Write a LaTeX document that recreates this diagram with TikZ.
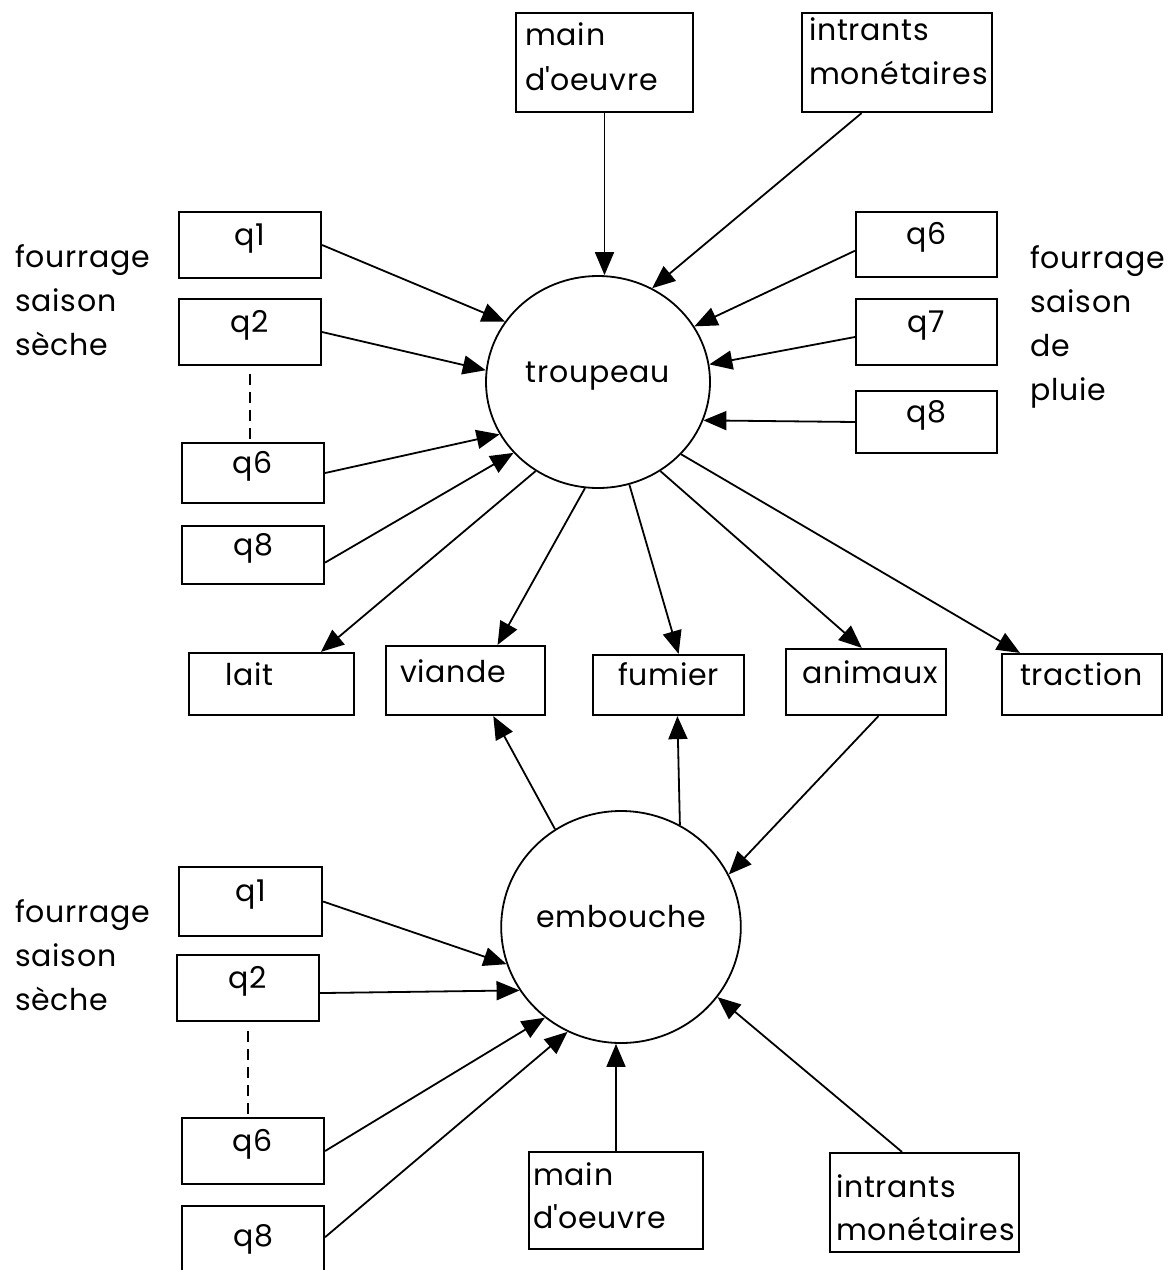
\documentclass[tikz,border=0pt]{standalone}
\usepackage{fontspec}
\setmainfont{Poppins}[LetterSpace=2.5]
\usetikzlibrary{arrows.meta,shapes.geometric}

\begin{document}
\begin{tikzpicture}[x=1pt,y=-1pt,
  every node/.style={font=\fontsize{30}{44}\selectfont},
  box/.style={draw, line width=2.2pt, rectangle, inner sep=0pt, text height=14pt, text depth=14pt},
  hub/.style={draw, line width=1.8pt, ellipse, inner sep=0pt, text height=15pt, text depth=15pt},
  lbl/.style={anchor=base west, inner sep=0pt},
  flow/.style={line width=1.8pt, -{Triangle[length=23pt,width=19pt]}},
  gap/.style={line width=1.8pt, dash pattern=on 11pt off 7pt}
]
\clip (0,0) rectangle (1169,1270);
\fill[white] (0,0) rectangle (1169,1270);

% ---------- herd ----------
\node[hub, minimum width=224pt, minimum height=212pt] (troupeau) at (598,382) {troupeau};

\node[box, minimum width=177pt, minimum height=99pt] (mo1) at (604.5,62.5) {};
\node[lbl] (mo1a) at (525,45) {main};
\node[lbl] (mo1b) at (525,90) {d\textquotesingle oeuvre};
\node[box, minimum width=190pt, minimum height=99pt] (im1) at (897,62.5) {};
\node[lbl] (im1a) at (809,40) {intrants};
\node[lbl] (im1b) at (809,84) {monétaires};

% dry-season fodder, herd
\node[box, minimum width=142pt, minimum height=66pt] (q1a) at (250,245) {q1};
\node[box, minimum width=142pt, minimum height=66pt] (q2a) at (250,332) {q2};
\node[box, minimum width=142pt, minimum height=60pt] (q6a) at (253,473) {q6};
\node[box, minimum width=142pt, minimum height=58pt] (q8a) at (253,555) {q8};
\node[lbl] (fsa1) at (15,267) {fourrage};
\node[lbl] (fsa2) at (15,311) {saison};
\node[lbl] (fsa3) at (15,355) {sèche};

% rainy-season fodder, herd
\node[box, minimum width=141pt, minimum height=65pt] (q6b) at (926.5,244.5) {q6};
\node[box, minimum width=141pt, minimum height=66pt] (q7b) at (926.5,332) {q7};
\node[box, minimum width=141pt, minimum height=62pt] (q8b) at (926.5,422) {q8};
\node[lbl] (fpb1) at (1030,268) {fourrage};
\node[lbl] (fpb2) at (1030,312) {saison};
\node[lbl] (fpb3) at (1030,356) {de};
\node[lbl] (fpb4) at (1030,400) {pluie};

% ---------- products ----------
\node[box, minimum width=165pt, minimum height=62pt] (lait) at (271.5,684) {};
\node[lbl] (laitt) at (225,685) {lait};
\node[box, minimum width=159pt, minimum height=69pt] (viande) at (465.5,680.5) {};
\node[lbl] (viandet) at (400,682) {viande};
\node[box, minimum width=151pt, minimum height=60pt] (fumier) at (668.5,685) {};
\node[lbl] (fumiert) at (618,685) {fumier};
\node[box, minimum width=160pt, minimum height=66pt] (animaux) at (866,682) {};
\node[lbl] (animauxt) at (802,683) {animaux};
\node[box, minimum width=160pt, minimum height=61pt] (traction) at (1082,684.5) {};
\node[lbl] (tractiont) at (1020,685) {traction};

% ---------- fattening ----------
\node[hub, minimum width=238pt, minimum height=232pt] (embouche) at (621,927) {embouche};

\node[box, minimum width=143pt, minimum height=69pt] (q1c) at (250.5,901.5) {q1};
\node[box, minimum width=142pt, minimum height=66pt] (q2c) at (248,988) {q2};
\node[box, minimum width=142pt, minimum height=66pt] (q6c) at (253,1151) {q6};
\node[box, minimum width=142pt, minimum height=80pt] (q8c) at (253,1246) {q8};
\node[lbl] (fsc1) at (15,922) {fourrage};
\node[lbl] (fsc2) at (15,966) {saison};
\node[lbl] (fsc3) at (15,1010) {sèche};

\node[box, minimum width=174pt, minimum height=97pt] (mo2) at (616,1200.5) {};
\node[lbl] (mo2a) at (533,1185) {main};
\node[lbl] (mo2b) at (533,1228) {d\textquotesingle oeuvre};
\node[box, minimum width=189pt, minimum height=99pt] (im2) at (924.5,1202.5) {};
\node[lbl] (im2a) at (836,1197) {intrants};
\node[lbl] (im2b) at (836,1240) {monétaires};

% ---------- connectors ----------
\draw[gap] ([yshift=-8pt]q2a.south) -- (q2a.south |- q6a.north);
\draw[gap] ([yshift=-9pt]q2c.south) -- (q2c.south |- q6c.north);

\draw[flow] (mo1.south) -- (mo1.south |- troupeau.north);
\draw[flow] (im1.-125) -- (troupeau.60);
\draw[flow] (q6b.185) -- (troupeau.30);
\draw[flow] (q7b.184) -- (troupeau.9);
\draw[flow] (q8b.west) -- (troupeau.-20);
\draw[flow] (q1a.east) -- (troupeau.147);
\draw[flow] (q2a.east) -- (troupeau.174);
\draw[flow] (q6a.east) -- (troupeau.208);
\draw[flow] (q8a.-6) -- (troupeau.220);

\draw[flow] (troupeau.235) -- (lait.33);
\draw[flow] (troupeau.263) -- (viande.48);
\draw[flow] (troupeau.-73) -- (fumier.72);
\draw[flow] (troupeau.-55) -- (animaux.97);
\draw[flow] (troupeau.-41) -- (traction.153);

\draw[flow] (embouche.124) -- (viande.-52);
\draw[flow] (embouche.60) -- (fumier.-74);
\draw[flow] (animaux.-70) -- (embouche.26);
\draw[flow] (q1c.east) -- (embouche.198);
\draw[flow] (q2c.-4) -- (embouche.212);
\draw[flow] (q6c.east) -- (embouche.230);
\draw[flow] (q8c.7) -- (embouche.243);
\draw[flow] (mo2.north) -- (mo2.north |- embouche.south);
\draw[flow] (im2.114) -- (embouche.-36);
\end{tikzpicture}
\end{document}
